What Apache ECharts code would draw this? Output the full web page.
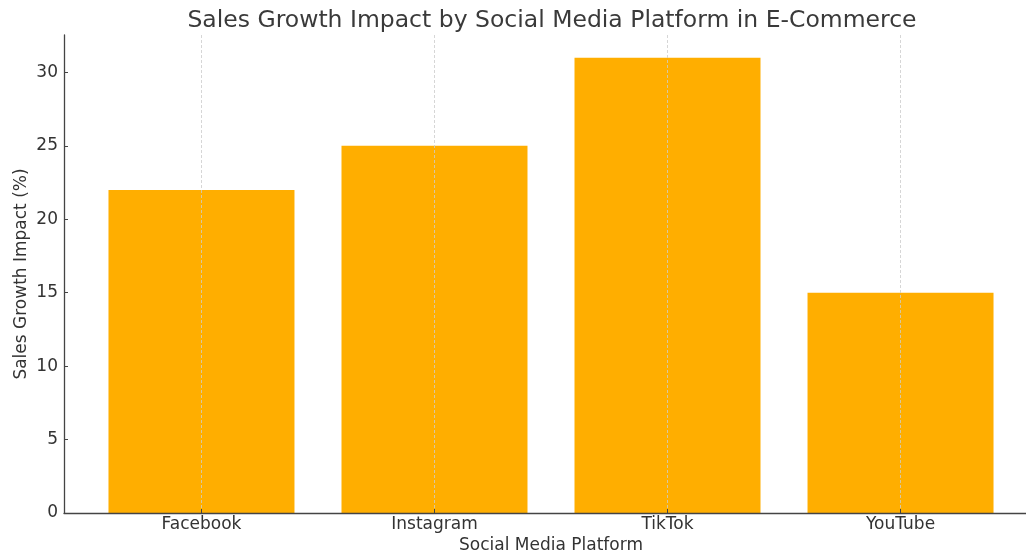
<!DOCTYPE html>
<html><head><meta charset="utf-8">
<script src="https://cdn.jsdelivr.net/npm/echarts@6/dist/echarts.min.js"></script>
<style>html,body{margin:0;padding:0;background:#fff}#c{width:1026px;height:554px}</style>
</head><body><div id="c"></div>
<script>
const categories = ['Facebook', 'Instagram', 'TikTok', 'YouTube'];
const growth = [22, 25, 31, 15];
const yTicks = [0, 5, 10, 15, 20, 25, 30];

const FONT = 'DejaVu Sans';
const chart = echarts.init(document.getElementById('c'), null, {renderer: 'canvas'});
chart.setOption({
  animation: false,
  backgroundColor: '#ffffff',
  title: {
    text: 'Sales Growth Impact by Social Media Platform in E-Commerce',
    left: 547, top: 4, textAlign: 'center',
    textStyle: {fontFamily: FONT, fontSize: 23.5, fontWeight: 'normal', color: '#3a3a3a'}
  },
  grid: {left: 64, right: -12, top: 35, bottom: 41, containLabel: false, outerBoundsMode: 'none'},
  xAxis: {
    type: 'value', min: -0.59, max: 3.59, z: 5,
    name: 'Social Media Platform', nameLocation: 'middle', nameGap: 24, nameMoveOverlap: false,
    nameTextStyle: {fontFamily: FONT, fontSize: 17, color: '#333'},
    axisLine: {show: true, onZero: false, lineStyle: {color: '#444', width: 1.3}},
    axisTick: {show: true, inside: true, length: 4, customValues: categories.map((c, i) => i), lineStyle: {color: '#444'}},
    axisLabel: {customValues: categories.map((c, i) => i), formatter: v => categories[Math.round(v)] || '',
      fontFamily: FONT, fontSize: 17, color: '#333', margin: 3},
    splitLine: {show: true, lineStyle: {color: '#cccccc', type: [3, 2], width: 0.8}}
  },
  yAxis: {
    type: 'value', min: 0, max: 32.55, interval: 5,
    name: 'Sales Growth Impact (%)', nameLocation: 'middle', nameGap: 34, nameMoveOverlap: false,
    nameTextStyle: {fontFamily: FONT, fontSize: 17, color: '#333'},
    axisLine: {show: true, onZero: false, lineStyle: {color: '#444', width: 1.3}},
    axisTick: {show: true, inside: true, length: 4, customValues: yTicks, lineStyle: {color: '#444'}},
    axisLabel: {customValues: yTicks, fontFamily: FONT, fontSize: 17, color: '#333', margin: 6},
    splitLine: {show: false}
  },
  series: [{
    type: 'bar',
    data: growth.map((v, i) => [i, v]),
    barWidth: 186,
    itemStyle: {color: '#FFAE00'}
  }]
});
</script></body></html>
